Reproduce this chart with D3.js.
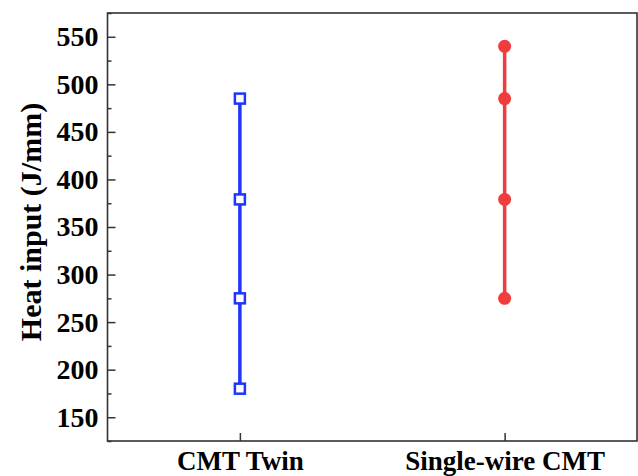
<!DOCTYPE html>
<html>
<head>
<meta charset="utf-8">
<script src="https://cdn.jsdelivr.net/npm/d3@7"></script>
<style>
  body { margin: 0; background: #fff; }
  svg { display: block; }
  text { font-family: "Liberation Serif", "Times New Roman", serif; font-weight: bold; fill: #000; }
</style>
</head>
<body>
<div id="visContainer"></div>
<script>
const width = 638;
const height = 476;
const margin = { top: 13, right: 1, bottom: 35, left: 107.5 };

const categories = ["CMT Twin", "Single-wire CMT"];
const twinValues = [485, 379, 275, 180];
const singleValues = [540, 485, 379, 275];
const yTicks = [150, 200, 250, 300, 350, 400, 450, 500, 550];
const yMinorTicks = [125, 175, 225, 275, 325, 375, 425, 475, 525, 575];

const svg = d3.select("#visContainer")
  .append("svg")
  .attr("width", width)
  .attr("height", height);

const innerW = width - margin.left - margin.right;
const innerH = height - margin.top - margin.bottom;

const x = d3.scalePoint()
  .domain(categories)
  .range([margin.left, margin.left + innerW])
  .padding(0.5);

const y = d3.scaleLinear()
  .domain([125, 575])
  .range([margin.top + innerH, margin.top]);

const axisColor = "#333";

// y axis, ticks pointing inward
const yAxis = svg.append("g")
  .attr("transform", `translate(${margin.left},0)`)
  .call(d3.axisLeft(y).tickValues(yTicks).tickSize(-8).tickPadding(9));
yAxis.select(".domain").remove();
yAxis.selectAll("line").attr("stroke", axisColor).attr("stroke-width", 1.5);
yAxis.selectAll("text").style("font-size", "28px").attr("font-family", null);

svg.append("g")
  .attr("transform", `translate(${margin.left},0)`)
  .call(d3.axisLeft(y).tickValues(yMinorTicks).tickSize(-4).tickFormat(""))
  .call(g => g.select(".domain").remove())
  .selectAll("line").attr("stroke", axisColor).attr("stroke-width", 1.5);

// x axis, ticks pointing inward
const xAxis = svg.append("g")
  .attr("transform", `translate(0,${margin.top + innerH})`)
  .call(d3.axisBottom(x).tickSize(-8).tickPadding(10));
xAxis.select(".domain").remove();
xAxis.selectAll("line").attr("stroke", axisColor).attr("stroke-width", 1.5);
xAxis.selectAll("text").style("font-size", "27px").attr("font-family", null);

// frame
svg.append("rect")
  .attr("x", margin.left)
  .attr("y", margin.top)
  .attr("width", innerW)
  .attr("height", innerH)
  .attr("fill", "none")
  .attr("stroke", axisColor)
  .attr("stroke-width", 1.6);

// y title
svg.append("text")
  .attr("transform", `translate(41,${margin.top + innerH / 2 - 5}) rotate(-90)`)
  .attr("text-anchor", "middle")
  .style("font-size", "30px")
  .text("Heat input (J/mm)");

const blue = "#1f35ff";
const red = "#f03c3c";

// CMT Twin series
const xt = x(categories[0]);
svg.append("line")
  .attr("x1", xt).attr("x2", xt)
  .attr("y1", y(d3.max(twinValues))).attr("y2", y(d3.min(twinValues)))
  .attr("stroke", blue)
  .attr("stroke-width", 3.5);

svg.selectAll(".twin")
  .data(twinValues)
  .join("rect")
  .attr("class", "twin")
  .attr("x", xt - 5)
  .attr("y", d => y(d) - 5)
  .attr("width", 10)
  .attr("height", 10)
  .attr("fill", "#fff")
  .attr("stroke", blue)
  .attr("stroke-width", 2.5);

// Single-wire CMT series
const xs = x(categories[1]);
svg.append("line")
  .attr("x1", xs).attr("x2", xs)
  .attr("y1", y(d3.max(singleValues))).attr("y2", y(d3.min(singleValues)))
  .attr("stroke", red)
  .attr("stroke-width", 3.5);

svg.selectAll(".single")
  .data(singleValues)
  .join("circle")
  .attr("class", "single")
  .attr("cx", xs)
  .attr("cy", d => y(d))
  .attr("r", 6.5)
  .attr("fill", red);
</script>
</body>
</html>
